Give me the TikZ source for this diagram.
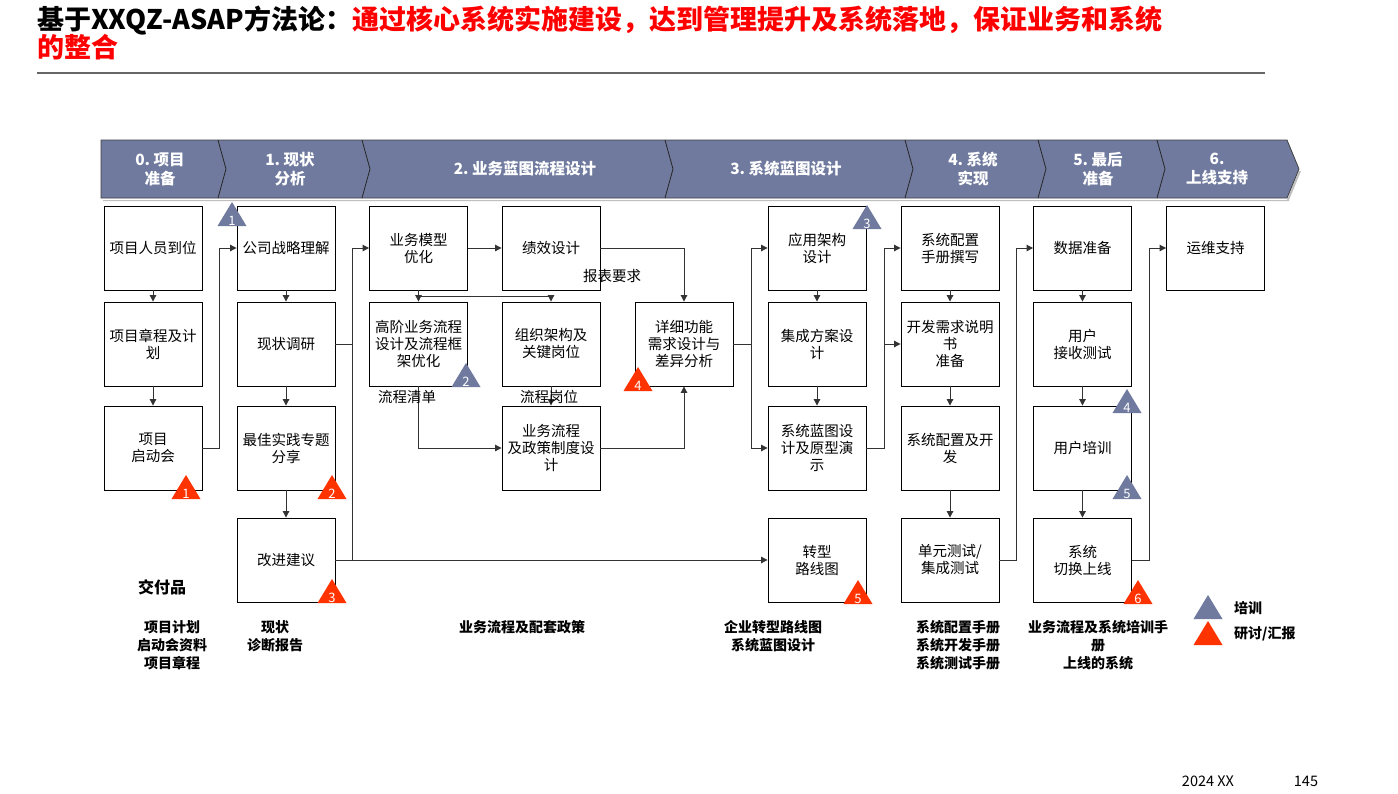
\documentclass[tikz,border=0pt]{standalone}
\usepackage{fontspec}
\setmainfont{Noto Sans CJK SC}
\usetikzlibrary{arrows.meta,calc}
\definecolor{slate}{RGB}{111,122,158}
\definecolor{alert}{RGB}{255,51,0}
\definecolor{titlered}{RGB}{255,0,0}
\tikzset{
  pics/flag/.style 2 args={code={
    \fill[#1] (-14.5,0) -- (14.5,0) -- (0,-24) -- cycle;
    \node[text=white,font=\fontsize{13}{13}\selectfont,anchor=base,inner sep=0pt] at (0,-1) {#2};
  }}
}
\begin{document}
\begin{tikzpicture}[x=1pt,y=-1pt,
  box/.style={draw=black,line width=0.9pt,minimum width=98pt,minimum height=84pt,
    inner sep=1pt,align=center,font=\fontsize{14.5}{17}\selectfont},
  link/.style={draw=black!80,line width=1pt},
  arr/.style={link,-{Triangle[length=6.5pt,width=6.5pt]}},
  note/.style={font=\fontsize{14.5}{17}\selectfont,inner sep=0pt},
  deliv/.style={font=\bfseries\fontsize{14}{18}\selectfont,align=center,inner sep=0pt},
  phase/.style={text=white,font=\bfseries\fontsize{15.5}{19}\selectfont,align=center,inner sep=0pt},
  legend/.style={font=\bfseries\fontsize{14}{17}\selectfont,anchor=west,inner sep=0pt}
]
\useasboundingbox (0,0) rectangle (1398,793);
\fill[white] (0,0) rectangle (1398,793);

% title
\node[anchor=base west,inner sep=0pt,font=\bfseries\fontsize{27}{28}\selectfont] (title1) at (37,29)
  {基于XXQZ-ASAP方法论：\textcolor{titlered}{通过核心系统实施建设，达到管理提升及系统落地，保证业务和系统}};
\node[anchor=base west,inner sep=0pt,font=\bfseries\fontsize{27}{28}\selectfont,text=titlered] (title2) at (37,57) {的整合};
\draw[black!60,line width=1.6pt] (37,73) -- (1265,73);

% phase band
\fill[black!25] (103,200) -- (1287,200) -- (1299,171) -- (1301,171) -- (1289,200) -- (1289,201) -- (103,201) -- cycle;
\fill[slate] (101,140) -- (1287,140) -- (1299,169) -- (1287,198) -- (101,198) -- cycle;
\draw[black!75,line width=0.8pt] (101,140) -- (1287,140) -- (1299,169) -- (1287,198) -- (101,198) -- cycle;
\foreach \b in {218,362,665,905,1038,1157}
  \draw[black!85,line width=0.8pt] (\b,140) -- (\b+8,169) -- (\b,198);
\node[phase] (p0) at (160,169) {0.\ 项目\\准备};
\node[phase] (p1) at (290,169) {1.\ 现状\\分析};
\node[phase] (p2) at (525,169) {2.\ 业务蓝图流程设计};
\node[phase] (p3) at (786,169) {3.\ 系统蓝图设计};
\node[phase] (p4) at (973,169) {4.\ 系统\\实现};
\node[phase] (p5) at (1098,169) {5.\ 最后\\准备};
\node[phase] (p6) at (1217,169) {6.\\上线支持};

% activity boxes
\node[box] (a1) at (153,248) {项目人员到位};
\node[box] (a2) at (153,344) {项目章程及计\\划};
\node[box] (a3) at (153,448) {项目\\启动会};

\node[box] (b1) at (286,248) {公司战略理解};
\node[box] (b2) at (286,344) {现状调研};
\node[box] (b3) at (286,448) {最佳实践专题\\分享};
\node[box] (b4) at (286,560) {改进建议};

\node[box] (c1) at (418.5,248) {业务模型\\优化};
\node[box] (c2) at (418.5,344) {高阶业务流程\\设计及流程框\\架优化};

\node[box] (d1) at (551,248) {绩效设计};
\node[box] (d2) at (551,344) {组织架构及\\关键岗位};
\node[box] (d3) at (551,448) {业务流程\\及政策制度设\\计};

\node[box] (e1) at (684,344) {详细功能\\需求设计与\\差异分析};

\node[box] (f1) at (817,248) {应用架构\\设计};
\node[box] (f2) at (817,344) {集成方案设\\计};
\node[box] (f3) at (817,448) {系统蓝图设\\计及原型演\\示};
\node[box] (f4) at (817,560) {转型\\路线图};

\node[box] (g1) at (950,248) {系统配置\\手册撰写};
\node[box] (g2) at (950,344) {开发需求说明\\书\\准备};
\node[box] (g3) at (950,448) {系统配置及开\\发};
\node[box] (g4) at (950,560) {单元测试/\\集成测试};

\node[box] (h1) at (1082.5,248) {数据准备};
\node[box] (h2) at (1082.5,344) {用户\\接收测试};
\node[box] (h3) at (1082.5,448) {用户培训};
\node[box] (h4) at (1082.5,560) {系统\\切换上线};

\node[box] (i1) at (1215.5,248) {运维支持};

% bus lines between columns
\coordinate (busA) at (219,0);
\coordinate (busB) at (352,0);
\coordinate (busE) at (751,0);
\coordinate (busF) at (884,0);
\coordinate (busG) at (1016,0);
\coordinate (busH) at (1149,0);
\coordinate (cj) at ($(c1.south)!0.5!(c2.north)$);

% connectors
\draw[arr] (a1) -- (a2);
\draw[arr] (a2) -- (a3);
\draw[arr] (a3.east) -- (a3.east -| busA) |- (b1.west);

\draw[arr] (b1) -- (b2);
\draw[arr] (b2) -- (b3);
\draw[arr] (b3) -- (b4);
\draw[arr] (b2.east) -- (b2.east -| busB) |- (c1.west);
\draw[link] (b2.east -| busB) -- (b4.east -| busB);
\draw[arr] (b4.east) -- (f4.west);

\draw[arr] (c1) -- (d1);
\draw[arr] (c1) -- (c2);
\draw[arr] (cj) -| (d2.north);
\draw[arr] (d1.east) -| (e1.north);
\draw[arr] (c2.south) |- (d3.west);
\draw[arr] (d2) -- (d3);
\draw[arr] (d3.east) -| (e1.south);

\draw[arr] (e1.east) -- (e1.east -| busE) |- (f1.west);
\draw[arr] (e1.east -| busE) |- (f3.west);

\draw[arr] (f1) -- (f2);
\draw[arr] (f2) -- (f3);
\draw[arr] (f3.east) -- (f3.east -| busF) |- (g1.west);
\draw[arr] (f3.east -| busF) |- (g2.west);

\draw[arr] (g1) -- (g2);
\draw[arr] (g2) -- (g3);
\draw[arr] (g3) -- (g4);
\draw[arr] (g4.east) -- (g4.east -| busG) |- (h1.west);

\draw[arr] (h1) -- (h2);
\draw[arr] (h2) -- (h3);
\draw[arr] (h3) -- (h4);
\draw[arr] (h4.east) -- (h4.east -| busH) |- (i1.west);

% connector labels
\node[note] (lb1) at (612,276) {报表要求};
\node[note] (lb2) at (407,397) {流程清单};
\node[note] (lb3) at (549,397) {流程岗位};

% training / workshop markers
\pic at (232,226) {flag={slate}{1}};
\pic at (466,387) {flag={slate}{2}};
\pic at (867,229) {flag={slate}{3}};
\pic at (1127,413) {flag={slate}{4}};
\pic at (1127,499) {flag={slate}{5}};
\pic at (186,499) {flag={alert}{1}};
\pic at (332,499) {flag={alert}{2}};
\pic at (332,603) {flag={alert}{3}};
\pic at (638,391) {flag={alert}{4}};
\pic at (858,604) {flag={alert}{5}};
\pic at (1138,604) {flag={alert}{6}};

% deliverables
\node[deliv,font=\bfseries\fontsize{16}{18}\selectfont] (dl0) at (162,587) {交付品};
\node[deliv] (dlA) at (172,645) {项目计划\\启动会资料\\项目章程};
\node[deliv] (dlB) at (275,636) {现状\\诊断报告};
\node[deliv] (dlC) at (522,627) {业务流程及配套政策};
\node[deliv] (dlD) at (773,636) {企业转型路线图\\系统蓝图设计};
\node[deliv] (dlE) at (958,645) {系统配置手册\\系统开发手册\\系统测试手册};
\node[deliv] (dlF) at (1098,645) {业务流程及系统培训手\\册\\上线的系统};

% legend
\pic at (1208,619) {flag={slate}{}};
\pic at (1208,645) {flag={alert}{}};
\node[legend] (lg1) at (1234,608) {培训};
\node[legend] (lg2) at (1234,634) {研讨/汇报};

% footer
\node[font=\fontsize{14.5}{16}\selectfont,inner sep=0pt] (ft1) at (1208,781) {2024 XX};
\node[font=\fontsize{14.5}{16}\selectfont,inner sep=0pt] (ft2) at (1306,781) {145};
\end{tikzpicture}
\end{document}
